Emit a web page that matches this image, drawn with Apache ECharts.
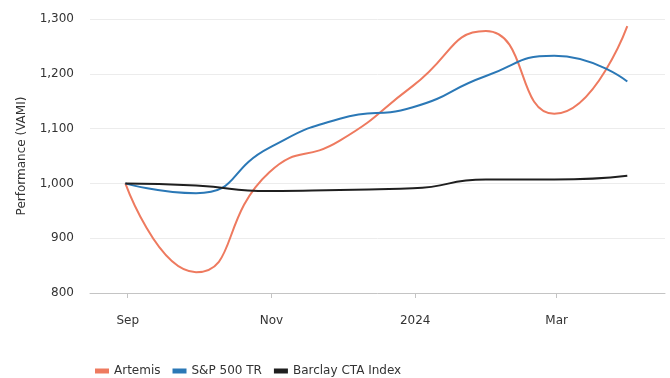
<!DOCTYPE html>
<html>
<head>
<meta charset="utf-8">
<script src="https://cdn.jsdelivr.net/npm/echarts@6/dist/echarts.min.js"></script>
<style>
  html, body { margin: 0; padding: 0; background: #fff; }
  #chart { width: 670px; height: 378px; }
</style>
</head>
<body>
<div id="chart"></div>
<script>
// month-end dates
var dates = ['2023-08-31', '2023-09-30', '2023-10-31', '2023-11-30', '2023-12-31', '2024-01-31', '2024-02-29', '2024-03-31'];
var artemis = [1000, 838, 1020, 1078, 1178, 1278, 1127, 1287];
var sp500 = [1000, 982, 1065, 1118, 1139, 1196, 1233, 1186];
var barclay = [1000, 996, 986, 988, 991, 1007, 1007, 1014];

var tickDates = ['2023-09-01', '2023-11-01', '2024-01-01', '2024-03-01'];
var tickLabels = ['Sep', 'Nov', '2024', 'Mar'];

var font = 'DejaVu Sans';

function ts(d) { return Date.UTC(+d.slice(0, 4), +d.slice(5, 7) - 1, +d.slice(8, 10)); }
function pairs(vals) {
  return vals.map(function (v, i) { return [ts(dates[i]), v]; });
}
var tickValues = tickDates.map(ts);

var chart = echarts.init(document.getElementById('chart'));

chart.setOption({
  animation: false,
  grid: { left: 90, right: 5, top: 19, bottom: 85 },
  legend: {
    left: 90,
    top: 360,
    itemWidth: 14,
    itemHeight: 5,
    itemGap: 12,
    icon: 'rect',
    textStyle: { fontFamily: font, fontSize: 12, color: '#333' },
    data: ['Artemis', 'S&P 500 TR', 'Barclay CTA Index']
  },
  xAxis: {
    type: 'value',
    min: ts('2023-08-16'),
    max: ts('2024-04-16'),
    axisLine: { lineStyle: { color: '#c4c4c4', width: 1 } },
    axisTick: { show: true, length: 5, lineStyle: { color: '#c4c4c4' }, customValues: tickValues },
    axisLabel: {
      customValues: tickValues,
      margin: 22,
      fontFamily: font,
      fontSize: 12,
      color: '#333',
      formatter: function (v) {
        var i = tickValues.indexOf(v);
        return i >= 0 ? tickLabels[i] : '';
      }
    },
    splitLine: { show: false }
  },
  yAxis: {
    type: 'value',
    min: 800,
    max: 1300,
    interval: 100,
    name: 'Performance (VAMI)',
    nameLocation: 'middle',
    nameGap: 62,
    nameTextStyle: { fontFamily: font, fontSize: 12, color: '#333' },
    axisLine: { show: false },
    axisTick: { show: false },
    axisLabel: {
      margin: 16,
      fontFamily: font,
      fontSize: 12,
      color: '#333',
      formatter: function (v) { return v.toLocaleString('en-US'); }
    },
    splitLine: { lineStyle: { color: '#ececec', width: 1 } }
  },
  series: [
    {
      name: 'Artemis', type: 'line', smooth: 0.55, symbol: 'none',
      color: '#ee7a5f', lineStyle: { width: 2 },
      data: pairs(artemis)
    },
    {
      name: 'S&P 500 TR', type: 'line', smooth: 0.55, symbol: 'none',
      color: '#2b78b6', lineStyle: { width: 2 },
      data: pairs(sp500)
    },
    {
      name: 'Barclay CTA Index', type: 'line', smooth: 0.55, symbol: 'none',
      color: '#1f1f1f', lineStyle: { width: 2 },
      data: pairs(barclay)
    }
  ]
});
</script>
</body>
</html>
